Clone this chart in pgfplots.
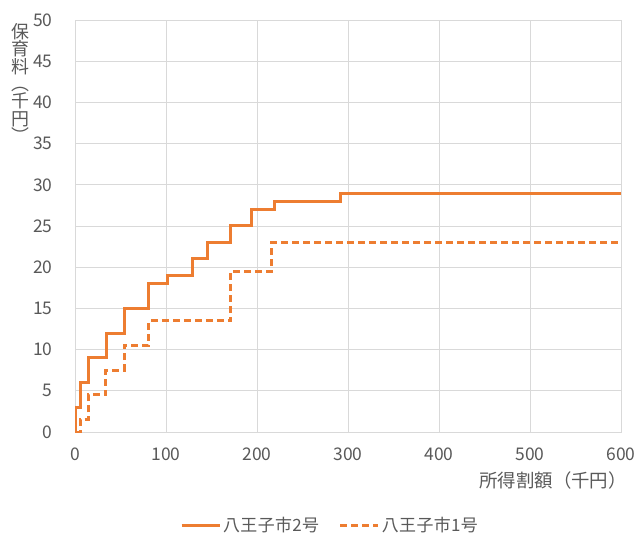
\documentclass[border=0pt]{standalone}
\usepackage{fontspec}
\setmainfont{Noto Sans CJK JP}
\usepackage{pgfplots}
\pgfplotsset{compat=1.18}
\definecolor{org}{HTML}{ED7D31}
\definecolor{gridc}{HTML}{D9D9D9}
\definecolor{txt}{HTML}{595959}
\begin{document}
\begin{tikzpicture}
\begin{axis}[
  at={(0,0)}, anchor=south west,
  scale only axis, width=546bp, height=412bp,
  xmin=0, xmax=600, ymin=0, ymax=50,
  xtick={0,100,...,600}, ytick={0,5,...,50},
  grid=major, major grid style={gridc, line width=0.8bp},
  axis line style={gridc, line width=0.8bp},
  tick style={draw=none},
  /pgf/number format/assume math mode=true,
  ticklabel style={font=\fontsize{17.5}{19}\selectfont, text=txt},
  xticklabel style={yshift=-12bp},
  yticklabel style={xshift=-19bp},
  xlabel={所得割額（千円）},
  xlabel style={at={(rel axis cs:1,0)}, anchor=north east, yshift=-40bp, xshift=6bp, font=\fontsize{18.5}{20}\selectfont, text=txt, inner sep=0pt},
  legend style={draw=none, at={(rel axis cs:0.467,-0.226)}, anchor=center, legend columns=2,
    font=\fontsize{17}{19}\selectfont\addfontfeature{LetterSpace=2}, text=txt,
    /tikz/every even column/.append style={column sep=18bp}},
  legend image code/.code={\draw[#1] (0bp,0bp) -- (38bp,0bp);},
]
\addplot[const plot, org, line width=3bp] coordinates {
 (0,0) (0,3) (5.5,6) (14.6,9) (35,12) (54,15) (81,18) (102,19) (129,21) (146,23) (171,25) (194.5,27) (219,28) (292,29) (600,29)};
\addlegendentry{八王子市2号}
\addplot[const plot, org, line width=3bp, dash pattern=on 7bp off 4bp] coordinates {
 (0,0) (5.5,1.5) (14.6,4.5) (34,7.5) (54,10.5) (81,13.5) (171,19.5) (216,23) (600,23)};
\addlegendentry{八王子市1号}
\end{axis}
\node[anchor=north, align=center, font=\fontsize{18}{17.5}\selectfont, text=txt, inner sep=0pt] at (-55bp,409bp) {保\\育\\料\\︵\\千\\円\\︶};
\pgfresetboundingbox
\path (-75bp,-104bp) rectangle (563bp,432bp);
\end{tikzpicture}
\end{document}
